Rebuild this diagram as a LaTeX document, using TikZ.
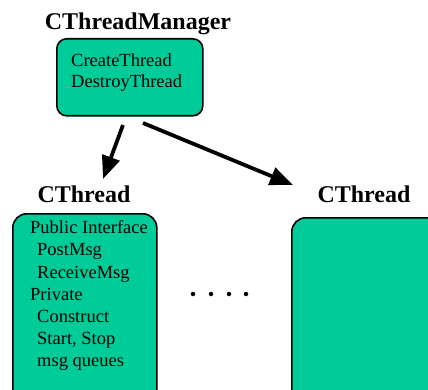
\documentclass[tikz,border=0pt]{standalone}
\usepackage{fontspec}
\setmainfont{Liberation Serif}
\usetikzlibrary{arrows.meta}
\definecolor{boxgreen}{RGB}{0,204,153}
\tikzset{
  box/.style={draw=black, line width=1.6pt, fill=boxgreen, rounded corners=14pt, anchor=north west, inner sep=0pt},
  title/.style={font=\fontsize{24}{27}\selectfont\bfseries, inner sep=0pt, anchor=base},
  item/.style={font=\fontsize{18.5}{21}\selectfont, anchor=base west, inner sep=0pt},
  bigarrow/.style={line width=3.8pt, -{Triangle[length=23pt,width=18pt]}},
  dot/.style={circle, fill=black, minimum size=4.5pt, inner sep=0pt}
}
\begin{document}
\begin{tikzpicture}[x=1pt,y=-1pt]
\useasboundingbox (0,0) rectangle (428,390);
\clip (0,0) rectangle (428,390);
\fill[white] (0,0) rectangle (428,390);
% manager
\node[title] (mgrtitle) at (138,30) {CThreadManager};
\node[box, rounded corners=10pt, minimum width=146pt, minimum height=77pt] (mgr) at (56,38) {};
\node[item] (ct) at (71,67) {CreateThread};
\node[item] (dt) at (71,88) {DestroyThread};
% left thread
\node[title] (lt) at (84,203) {CThread};
\node[box, minimum width=144pt, minimum height=200pt] (lbox) at (12,213) {};
\node[item] (l1) at (30,233) {Public Interface};
\node[item] (l2) at (37,255) {PostMsg};
\node[item] (l3) at (37,278) {ReceiveMsg};
\node[item] (l4) at (30,300) {Private};
\node[item] (l5) at (37,322) {Construct};
\node[item] (l6) at (37,344) {Start, Stop};
\node[item] (l7) at (37,366) {msg queues};
% right thread
\node[title] (rt) at (364,203) {CThread};
\node[box, minimum width=160pt, minimum height=200pt] (rbox) at (291,217) {};
% arrows
\coordinate (a1s) at (123,125);
\coordinate (a1e) at (103,179);
\coordinate (a2s) at (143,123);
\coordinate (a2e) at (293,185);
\draw[bigarrow] (a1s) -- (a1e);
\draw[bigarrow] (a2s) -- (a2e);
% dots
\node[dot] (d1) at (193,294) {};
\node[dot] (d2) at (211,294) {};
\node[dot] (d3) at (229,294) {};
\node[dot] (d4) at (246,294) {};
\end{tikzpicture}
\end{document}
